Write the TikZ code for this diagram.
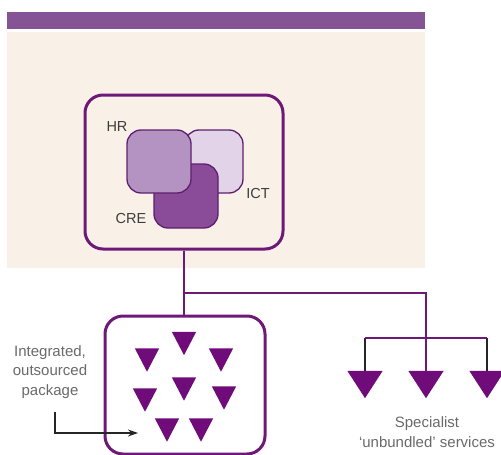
\documentclass[tikz,border=0pt]{standalone}
\usepackage{fontspec}
\setmainfont{Liberation Sans}
\usetikzlibrary{arrows.meta}
\definecolor{barpurple}{RGB}{132,84,148}
\definecolor{panel}{RGB}{249,241,231}
\definecolor{linepurple}{RGB}{110,25,120}
\definecolor{tripurple}{RGB}{112,12,122}
\definecolor{hrfill}{RGB}{180,147,195}
\definecolor{ictfill}{RGB}{227,211,233}
\definecolor{crefill}{RGB}{138,76,152}
\definecolor{sqedge}{RGB}{94,31,110}
\definecolor{labelgray}{RGB}{60,60,60}
\definecolor{notegray}{RGB}{105,105,105}
\begin{document}
\begin{tikzpicture}[x=1pt,y=-1pt,
  box/.style={draw=linepurple, line width=3pt, rounded corners=18pt, inner sep=0pt},
  square/.style={draw=sqedge, line width=1.3pt, rounded corners=14pt, inner sep=0pt},
  smalltri/.style={inner sep=0pt, minimum width=24pt, minimum height=23pt},
  bigtri/.style={inner sep=0pt, minimum width=35pt, minimum height=27pt},
  lbl/.style={inner sep=0pt, text=labelgray, font=\fontsize{14.5}{17}\selectfont},
  note/.style={inner sep=0pt, align=center, text=notegray, font=\fontsize{15}{19.5}\selectfont},
  link/.style={draw=linepurple, line width=2.5pt},
  stem/.style={draw=black!85, line width=2.2pt}
]
\useasboundingbox (0,0) rectangle (501,455);

% header bar and shaded panel
\fill[panel] (7,32) rectangle (425,268);
\fill[barpurple] (7,11.5) rectangle (425,29);

% upper box with the three overlapping service squares
\node[box, fill=panel, minimum width=198pt, minimum height=154pt] (up) at (184,172) {};
\node[square, fill=ictfill, minimum width=58pt, minimum height=63pt] (ict) at (214,161.5) {};
\node[square, fill=crefill, minimum width=64pt, minimum height=64pt] (cre) at (186,196) {};
\node[square, fill=hrfill, minimum width=64pt, minimum height=63pt] (hr) at (159,161.5) {};
\node[lbl] (hrl) at (117,127) {HR};
\node[lbl] (ictl) at (258,194) {ICT};
\node[lbl] (crel) at (131,219) {CRE};

% lower box: integrated package
\node[box, fill=white, minimum width=160pt, minimum height=138pt] (low) at (185,385) {};

% triangles inside the package
\node[smalltri] (s1) at (184,343.5) {};
\node[smalltri] (s2) at (147,360) {};
\node[smalltri] (s3) at (221,360) {};
\node[smalltri] (s4) at (145,400) {};
\node[smalltri] (s5) at (184,389) {};
\node[smalltri] (s6) at (224,398) {};
\node[smalltri] (s7) at (167,430) {};
\node[smalltri] (s8) at (201,430) {};

% unbundled service triangles
\node[bigtri] (t1) at (365,384.5) {};
\node[bigtri] (t2) at (426,384.5) {};
\node[bigtri] (t3) at (487,384.5) {};

\foreach \t in {s1,s2,s3,s4,s5,s6,s7,s8,t1,t2,t3}
  \fill[tripurple] (\t.north west) -- (\t.north east) -- (\t.south) -- cycle;

% connectors
\coordinate (j) at (184,293);
\coordinate (b) at (426,338);
\draw[link] (up.south) -- (up.south |- low.north);
\draw[link] (j) -| (t2.north);
\draw[stem] (t1.north) -- (t1.north |- b);
\draw[stem] (t3.north) -- (t3.north |- b);
\draw[link] (t1.north |- b) -- (t3.north |- b);

% captions
\node[note] (pkg) at (50,372) {Integrated,\\outsourced\\package};
\node[note] (spec) at (427,432) {Specialist\\`unbundled' services};

\coordinate (ps) at (55,412);
\coordinate (pe) at (138,433);
\draw[black!85, line width=1.2pt, -{Stealth[length=10pt,width=7pt]}] (ps) |- (pe);
\end{tikzpicture}
\end{document}
